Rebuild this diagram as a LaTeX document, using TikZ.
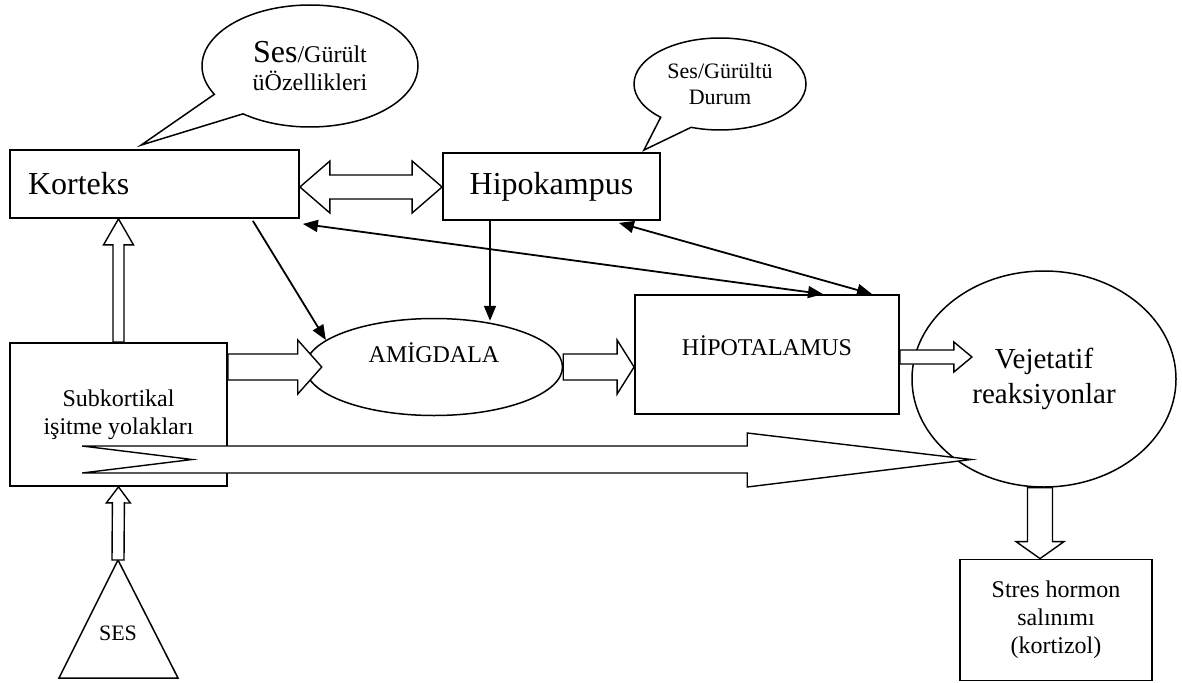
\documentclass[tikz,border=0pt]{standalone}
\usepackage{fontspec}
\setmainfont{Liberation Serif}
\usepackage{tikz}
\usetikzlibrary{arrows.meta,calc,positioning,shapes.geometric,shapes.callouts}

\newcommand{\bigfont}{\fontsize{32}{36}\selectfont}
\newcommand{\midfont}{\fontsize{24}{28}\selectfont}
\newcommand{\vejfont}{\fontsize{29}{35}\selectfont}
\newcommand{\smallfont}{\fontsize{22}{26}\selectfont}

\tikzset{
  box/.style={rectangle, draw=black, line width=1.8pt, inner sep=0pt, align=center},
  oval/.style={ellipse, draw=black, line width=1.5pt, inner sep=0pt, align=center},
  bubble/.style={ellipse callout, draw=black, line width=1.5pt, inner sep=0pt, align=center, callout pointer arc=24},
  hollow/.style={draw=black, fill=white, line width=1.4pt, line join=miter},
  linkarrow/.style={line width=1.8pt, -{Triangle[length=15pt,width=12pt]}},
  twoway/.style={line width=1.8pt, {Triangle[length=15pt,width=12pt]}-{Triangle[length=15pt,width=12pt]}}
}

% hollow block arrow: start, end, shaft half width, head half width, head length
\newcommand{\blockarrow}[5]{%
  \coordinate (ba-s) at (#1);
  \coordinate (ba-e) at (#2);
  \coordinate (ba-b) at ($(ba-e)!#5!(ba-s)$);
  \draw[hollow] ($(ba-s)!#3!90:(ba-e)$) -- ($(ba-b)!#3!90:(ba-e)$) -- ($(ba-b)!#4!90:(ba-e)$)
    -- (ba-e) -- ($(ba-b)!#4!-90:(ba-e)$) -- ($(ba-b)!#3!-90:(ba-e)$) -- ($(ba-s)!#3!-90:(ba-e)$) -- cycle;
}
% hollow block arrow with two heads
\newcommand{\twoblockarrow}[5]{%
  \coordinate (ba-s) at (#1);
  \coordinate (ba-e) at (#2);
  \coordinate (ba-b1) at ($(ba-s)!#5!(ba-e)$);
  \coordinate (ba-b2) at ($(ba-e)!#5!(ba-s)$);
  \draw[hollow] (ba-s) -- ($(ba-b1)!#4!90:(ba-e)$) -- ($(ba-b1)!#3!90:(ba-e)$) -- ($(ba-b2)!#3!90:(ba-e)$)
    -- ($(ba-b2)!#4!90:(ba-e)$) -- (ba-e) -- ($(ba-b2)!#4!-90:(ba-e)$) -- ($(ba-b2)!#3!-90:(ba-e)$)
    -- ($(ba-b1)!#3!-90:(ba-e)$) -- ($(ba-b1)!#4!-90:(ba-e)$) -- cycle;
}

\begin{document}
\begin{tikzpicture}[x=1pt, y=-1pt]
    \useasboundingbox (0,0) rectangle (1182,682);

    %Nodes
    \node (korteks)     [box, inner xsep=18pt, text width=253pt, align=left, minimum height=68pt, font=\bigfont] at (154.5,184) {Korteks};
    \node (hipokampus)  [box, minimum width=217pt, minimum height=67pt, font=\bigfont] at (551.5,186.5) {Hipokampus};
    \node (subk)        [box, minimum width=217pt, minimum height=143pt, font=\midfont] at (118.5,414.5) {Subkortikal\\işitme yolakları};
    \node (amigdala)    [oval, minimum width=257pt, minimum height=97pt, font=\midfont, text depth=28pt] at (434,367) {AMİGDALA};
    \node (hipotalamus) [box, minimum width=264pt, minimum height=119pt, font=\midfont, text depth=18pt] at (767,354.5) {HİPOTALAMUS};
    \node (vejetatif)   [oval, minimum width=264pt, minimum height=216pt, font=\vejfont] at (1044,379) {Vejetatif\\reaksiyonlar};
    \node (stres)       [box, minimum width=192pt, minimum height=121pt, font=\midfont] at (1056,620) {Stres hormon\\salınımı\\(kortizol)};

    %Sound source
    \coordinate (sesapex) at (118,560);
    \draw[line width=1.5pt, line join=miter] (sesapex) -- (59,678) -- (178,678) -- cycle;
    \node (ses) [font=\smallfont] at (118,633) {SES};

    %Callouts
    \node (sesbubble) [bubble, minimum width=216pt, minimum height=122pt, font=\midfont,
        callout absolute pointer={($(korteks.north west)+(132,-4)$)}] at (310,66) {{\bigfont Ses}/Gürült\\üÖzellikleri};
    \node (durumbubble) [bubble, minimum width=172pt, minimum height=92pt, font=\smallfont,
        callout absolute pointer={($(hipokampus.north east)+(-17,-2)$)}] at (720,84) {Ses/Gürültü\\Durum};

    %Block arrows
    \twoblockarrow{$(korteks.east)+(0,3)$}{$(hipokampus.west)+(0,0.5)$}{12pt}{26pt}{30pt}
    \blockarrow{subk.north}{subk.north |- korteks.south}{5.5pt}{15pt}{26pt}
    \blockarrow{sesapex}{subk.south}{6pt}{12pt}{16pt}
    \blockarrow{subk.east |- amigdala.west}{$(amigdala.west)+(17,0)$}{13pt}{27pt}{24pt}
    \blockarrow{amigdala.east}{hipotalamus.west |- amigdala.east}{13pt}{27pt}{17pt}
    \blockarrow{$(hipotalamus.east)+(0,2.5)$}{$(hipotalamus.east)+(72,2.5)$}{7pt}{15pt}{18pt}
    \blockarrow{$(vejetatif.south)+(-4,0)$}{$(stres.north)+(-16,0)$}{12.5pt}{24pt}{17pt}

    %Long arrow
    \coordinate (longtail) at ($(subk.west)+(73,45)$);
    \coordinate (longtip) at ($(vejetatif.west)+(60,80.5)$);
    \draw[hollow] ($(longtail)+(0,-13.5)$) -- ($(longtip)+(-224,-13.5)$) -- ($(longtip)+(-224,-26.5)$) -- (longtip)
        -- ($(longtip)+(-224,27.5)$) -- ($(longtip)+(-224,13.5)$) -- ($(longtail)+(0,13.5)$) -- ($(longtail)+(110,0)$) -- cycle;

    %Lines
    \draw[linkarrow] ([xshift=-47pt,yshift=-2pt]korteks.south east) -- (amigdala.166);
    \draw[linkarrow] ([xshift=-61.5pt]hipokampus.south) -- ([xshift=56pt,yshift=-3pt]amigdala.north);
    \draw[twoway] ([xshift=3pt,yshift=-5pt]korteks.south east) -- ([xshift=56pt]hipotalamus.north);
    \draw[twoway] ([xshift=-42pt,yshift=-2pt]hipokampus.south east) -- ([xshift=105pt]hipotalamus.north);
\end{tikzpicture}
\end{document}
